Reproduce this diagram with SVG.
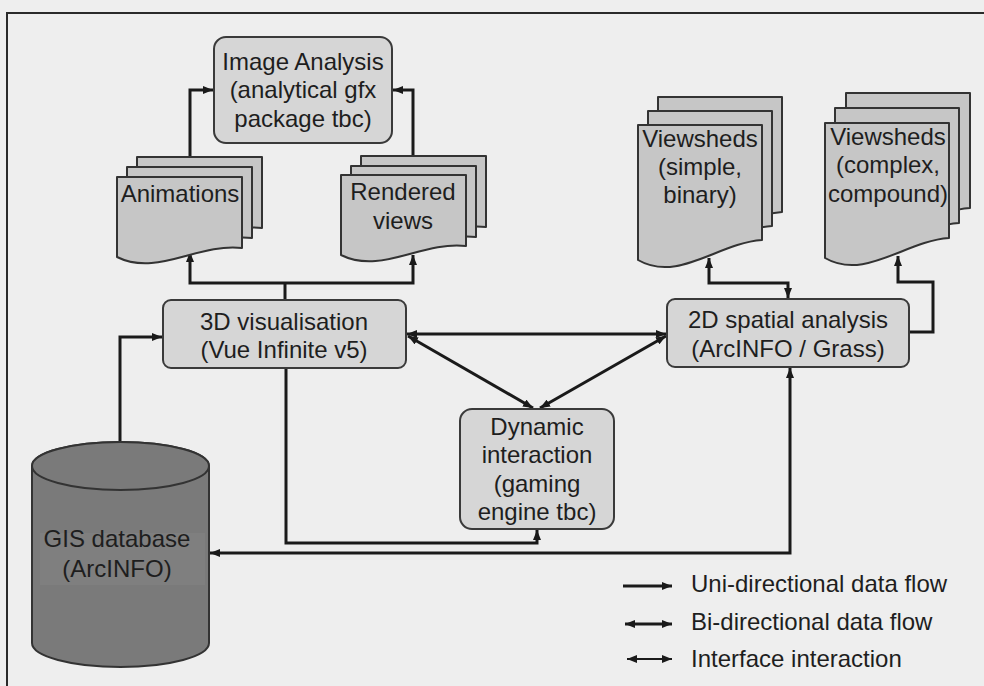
<svg xmlns="http://www.w3.org/2000/svg" width="984" height="686" viewBox="0 0 984 686">
<defs>
<style>
.bg{fill:#eeeeee}
.frame{fill:none;stroke:#2a2a2a;stroke-width:2}
.box{fill:#d6d6d6;stroke:#3a3a3a;stroke-width:2}
.doc{fill:#c6c6c6;stroke:#333;stroke-width:2;stroke-linejoin:round}
.cyl{fill:#7a7a7a;stroke:#333;stroke-width:2}
.t{font-family:"Liberation Sans",Arial,sans-serif;font-size:24px;fill:#1e1e1e;text-anchor:middle}
.lt{font-family:"Liberation Sans",Arial,sans-serif;font-size:24px;fill:#1e1e1e}
.c{fill:none;stroke:#1a1a1a;stroke-width:3;stroke-linejoin:miter}
.ct{fill:none;stroke:#1a1a1a;stroke-width:2}
</style>
<marker id="ah" markerUnits="userSpaceOnUse" markerWidth="10" markerHeight="8" refX="10" refY="4" orient="auto-start-reverse">
<path d="M0,0 L10,4 L0,8 Z" fill="#1a1a1a"/>
</marker>
<path id="docA" d="M0,0 H125 V71 C80,66 40,100 0,80 Z"/>
<path id="docV" d="M0,0 H124 V115 C80,118 40,158 0,135 Z"/>
</defs>
<rect class="bg" x="0" y="0" width="984" height="686"/>
<path class="frame" d="M7,686 V13 H984"/>

<g id="connectors">
<path class="c" d="M190,157 V90 H213" marker-end="url(#ah)"/>
<path class="c" d="M413,156 V90 H393" marker-end="url(#ah)"/>
<path class="c" d="M285,300 V283"/>
<path class="c" d="M190,252 V283 H413 V255" marker-start="url(#ah)" marker-end="url(#ah)"/>
<path class="c" d="M120,442 V337 H162" marker-end="url(#ah)"/>
<path class="c" d="M286,368 V543 H537 V530" marker-end="url(#ah)"/>
<path class="c" d="M210,553 H790 V368" marker-start="url(#ah)" marker-end="url(#ah)"/>
<path class="c" d="M407,334 H666" marker-start="url(#ah)" marker-end="url(#ah)"/>
<path class="c" d="M408,336 L533,408" marker-start="url(#ah)" marker-end="url(#ah)"/>
<path class="c" d="M666,336 L540,408" marker-start="url(#ah)" marker-end="url(#ah)"/>
<path class="c" d="M788,298 V283 H709 V258" marker-start="url(#ah)" marker-end="url(#ah)"/>
<path class="c" d="M909,332 H933 V282 H898 V256" marker-end="url(#ah)"/>
</g>

<g id="image-analysis">
<rect class="box" x="214" y="37" width="178" height="106" rx="12"/>
<text class="t" x="303" y="70">Image Analysis</text>
<text class="t" x="303" y="98">(analytical gfx</text>
<text class="t" x="303" y="127">package tbc)</text>
</g>

<g id="animations">
<use href="#docA" class="doc" x="137" y="157"/>
<use href="#docA" class="doc" x="127" y="167"/>
<use href="#docA" class="doc" x="117" y="177"/>
<text class="t" x="180" y="202">Animations</text>
</g>

<g id="rendered-views">
<use href="#docA" class="doc" x="361" y="156"/>
<use href="#docA" class="doc" x="351" y="166"/>
<use href="#docA" class="doc" x="341" y="175"/>
<text class="t" x="403" y="200">Rendered</text>
<text class="t" x="403" y="229">views</text>
</g>

<g id="viewsheds-simple">
<use href="#docV" class="doc" x="658" y="97"/>
<use href="#docV" class="doc" x="648" y="111"/>
<use href="#docV" class="doc" x="638" y="125"/>
<text class="t" x="700" y="147">Viewsheds</text>
<text class="t" x="700" y="175">(simple,</text>
<text class="t" x="700" y="203">binary)</text>
</g>

<g id="viewsheds-complex">
<use href="#docV" class="doc" x="846" y="93"/>
<use href="#docV" class="doc" x="835" y="108"/>
<use href="#docV" class="doc" x="825" y="123"/>
<text class="t" x="888" y="145">Viewsheds</text>
<text class="t" x="888" y="173">(complex,</text>
<text class="t" x="888" y="202">compound)</text>
</g>

<g id="visualisation-3d">
<rect class="box" x="163" y="300" width="243" height="68" rx="8"/>
<text class="t" x="284" y="330">3D visualisation</text>
<text class="t" x="284" y="358">(Vue Infinite v5)</text>
</g>

<g id="spatial-analysis-2d">
<rect class="box" x="667" y="299" width="242" height="68" rx="8"/>
<text class="t" x="788" y="328">2D spatial analysis</text>
<text class="t" x="788" y="357">(ArcINFO / Grass)</text>
</g>

<g id="dynamic-interaction">
<rect class="box" x="460" y="409" width="154" height="120" rx="12"/>
<text class="t" x="537" y="435">Dynamic</text>
<text class="t" x="537" y="463">interaction</text>
<text class="t" x="537" y="492">(gaming</text>
<text class="t" x="537" y="520">engine tbc)</text>
</g>

<g id="gis-database">
<path class="cyl" d="M32,466 V643 A88.5,24 0 0 0 209,643 V466 A88.5,24 0 0 0 32,466 Z"/>
<ellipse class="cyl" cx="120.5" cy="466" rx="88.5" ry="24"/>
<rect x="40" y="533" width="165" height="52" fill="#7f7f7f"/>
<text class="t" x="117" y="547">GIS database</text>
<text class="t" x="117" y="577">(ArcINFO)</text>
</g>

<g id="legend">
<path class="c" d="M623,586 H672" marker-end="url(#ah)"/>
<path class="c" d="M625,624 H672" marker-start="url(#ah)" marker-end="url(#ah)"/>
<path class="ct" d="M627,659 H672" marker-start="url(#ah)" marker-end="url(#ah)"/>
<text class="lt" x="691" y="592">Uni-directional data flow</text>
<text class="lt" x="691" y="630">Bi-directional data flow</text>
<text class="lt" x="691" y="667">Interface interaction</text>
</g>
</svg>
